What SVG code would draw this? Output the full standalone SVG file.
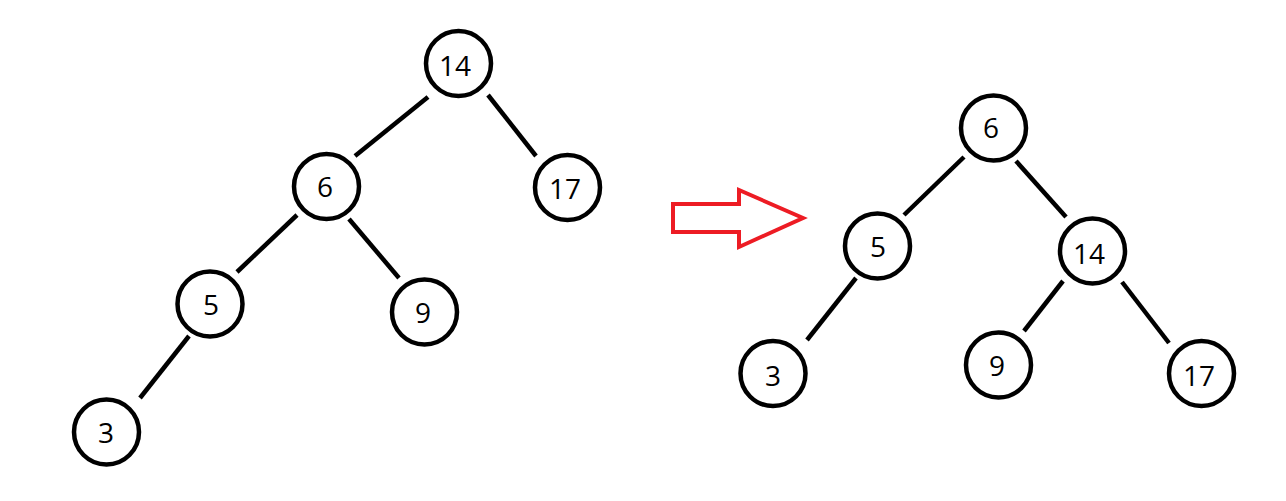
<svg xmlns="http://www.w3.org/2000/svg" width="1286" height="501" viewBox="0 0 1286 501">
<style>
.n circle{fill:#fff;stroke:#000;stroke-width:4.5}
.n text{font-family:"Open Sans","Noto Sans",sans-serif;font-size:28px;fill:#000;text-anchor:middle}
#edges line{stroke:#000;stroke-width:4.5}
</style>
<rect width="1286" height="501" fill="#fff"/>
<g id="edges">
<line x1="428" y1="97" x2="355" y2="156"/>
<line x1="488" y1="95" x2="536" y2="156"/>
<line x1="297" y1="215" x2="237" y2="272"/>
<line x1="349" y1="219" x2="399" y2="278"/>
<line x1="189" y1="336" x2="140" y2="398"/>
<line x1="964" y1="157" x2="904" y2="215"/>
<line x1="1016" y1="161" x2="1066" y2="217"/>
<line x1="856" y1="278" x2="807" y2="340"/>
<line x1="1063" y1="281" x2="1024" y2="331"/>
<line x1="1122" y1="282" x2="1169" y2="343"/>
</g>
<g id="arrow"><polygon points="673,204 739,204 739,190 803,218 739,247 739,232 673,232" fill="none" stroke="#ed1c24" stroke-width="4"/></g>
<g id="L14" class="n"><circle cx="458.5" cy="63.5" r="32.5"/><text x="455" y="76">14</text></g>
<g id="L6" class="n"><circle cx="326.5" cy="186.5" r="32.5"/><text x="325" y="197">6</text></g>
<g id="L17" class="n"><circle cx="567.5" cy="187.5" r="32.5"/><text x="565" y="199">17</text></g>
<g id="L5" class="n"><circle cx="210" cy="304" r="32.5"/><text x="211" y="315">5</text></g>
<g id="L9" class="n"><circle cx="424.5" cy="312" r="32.5"/><text x="423" y="323">9</text></g>
<g id="L3" class="n"><circle cx="106.5" cy="432" r="32.5"/><text x="106" y="443">3</text></g>
<g id="R6" class="n"><circle cx="993.5" cy="128" r="32.5"/><text x="991" y="138">6</text></g>
<g id="R5" class="n"><circle cx="877.5" cy="246" r="32.5"/><text x="878" y="257">5</text></g>
<g id="R14" class="n"><circle cx="1092.5" cy="251" r="32.5"/><text x="1089" y="264">14</text></g>
<g id="R3" class="n"><circle cx="773" cy="373.5" r="32.5"/><text x="773" y="386">3</text></g>
<g id="R9" class="n"><circle cx="998.5" cy="365" r="32.5"/><text x="997" y="376">9</text></g>
<g id="R17" class="n"><circle cx="1201.5" cy="373.5" r="32.5"/><text x="1199" y="386">17</text></g>
</svg>
